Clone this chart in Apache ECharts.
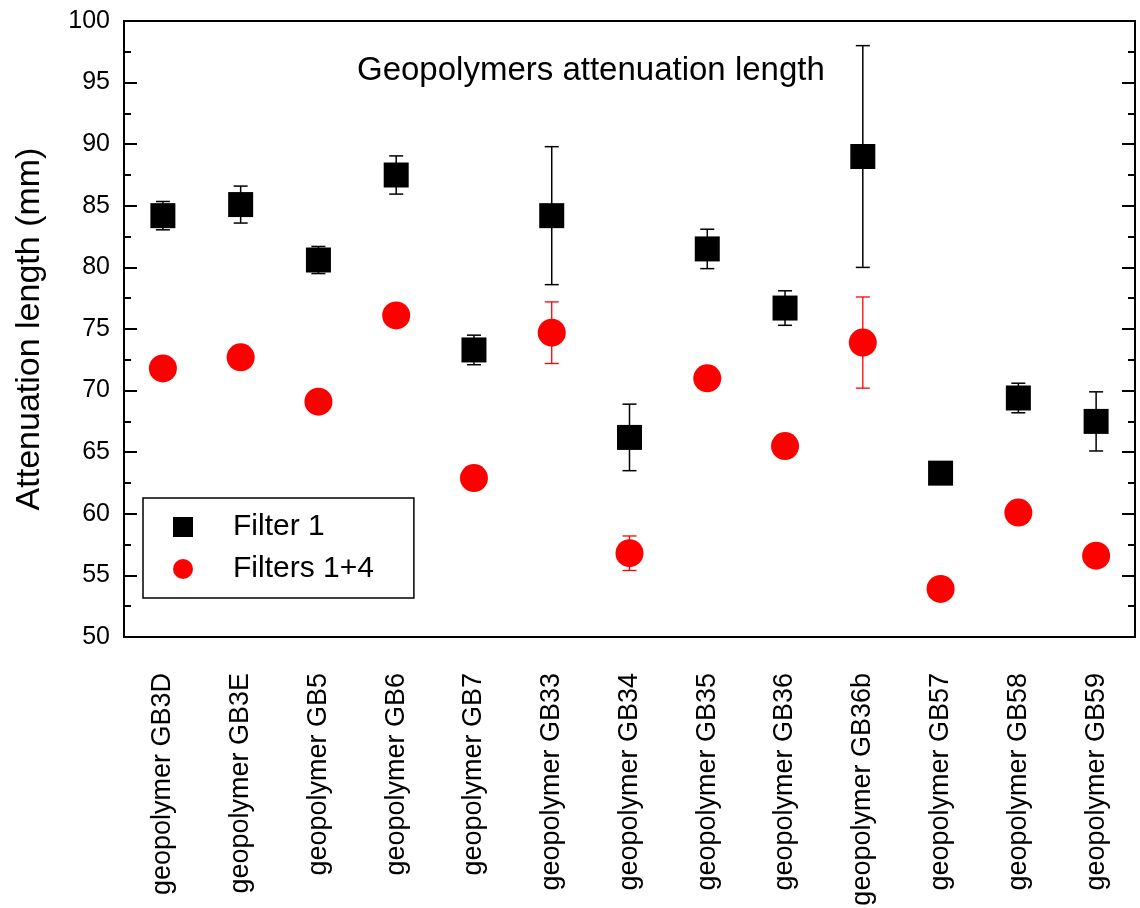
<!DOCTYPE html>
<html>
<head>
<meta charset="utf-8">
<title>Geopolymers attenuation length</title>
<script src="https://cdn.jsdelivr.net/npm/echarts@6/dist/echarts.min.js"></script>
<style>
  html, body { margin: 0; padding: 0; background: #fff; }
  #chart { width: 1140px; height: 908px; }
</style>
</head>
<body>
<div id="chart"></div>
<script>
// samples on the x axis
var categories = ['geopolymer GB3D', 'geopolymer GB3E', 'geopolymer GB5', 'geopolymer GB6',
  'geopolymer GB7', 'geopolymer GB33', 'geopolymer GB34', 'geopolymer GB35', 'geopolymer GB36',
  'geopolymer GB36b', 'geopolymer GB57', 'geopolymer GB58', 'geopolymer GB59'];

// Filter 1 (black squares) and its error
var filter1 = [84.2, 85.1, 80.6, 87.5, 73.3, 84.2, 66.2, 81.5, 76.7, 89.0, 63.3, 69.4, 67.5];
var filter1Err = [1.15, 1.5, 1.1, 1.55, 1.2, 5.6, 2.7, 1.6, 1.4, 9.0, 0, 1.2, 2.4];

// Filters 1+4 (red circles) and its error
var filters14 = [71.8, 72.7, 69.1, 76.1, 62.9, 74.7, 56.8, 71.0, 65.5, 73.9, 53.9, 60.1, 56.6];
var filters14Err = [0, 0, 0, 0, 0, 2.5, 1.4, 0, 0, 3.7, 0, 0, 0];

// y axis
var yMin = 50, yMax = 100, yStep = 5;

function errData(vals, errs) {
  var out = [];
  vals.forEach(function (v, i) {
    if (errs[i] > 0) out.push([i, v - errs[i], v + errs[i]]);
  });
  return out;
}

function errRender(color, width) {
  return function (params, api) {
    var x = api.value(0);
    var lo = api.coord([x, api.value(1)]);
    var hi = api.coord([x, api.value(2)]);
    var half = 7;
    var style = { stroke: color, lineWidth: width };
    return {
      type: 'group',
      children: [
        { type: 'line', shape: { x1: hi[0], y1: hi[1], x2: lo[0], y2: lo[1] }, style: style },
        { type: 'line', shape: { x1: hi[0] - half, y1: hi[1], x2: hi[0] + half, y2: hi[1] }, style: style },
        { type: 'line', shape: { x1: lo[0] - half, y1: lo[1], x2: lo[0] + half, y2: lo[1] }, style: style }
      ]
    };
  };
}

var chart = echarts.init(document.getElementById('chart'));
var font = 'Arial, "Liberation Sans", sans-serif';

var option = {
  backgroundColor: '#fff',
  animation: false,
  title: {
    text: 'Geopolymers attenuation length',
    left: 357, top: 54, padding: 0,
    textStyle: { fontFamily: font, fontSize: 33, fontWeight: 'normal', color: '#000' }
  },
  legend: {
    orient: 'vertical',
    left: 143, top: 498,
    padding: [14, 40, 14, 30],
    itemGap: 12,
    itemWidth: 20, itemHeight: 20,
    borderColor: '#000', borderWidth: 1.5, borderRadius: 0,
    textStyle: { fontFamily: font, fontSize: 30, color: '#000', padding: [0, 0, 0, 35] },
    data: [
      { name: 'Filter 1', icon: 'rect' },
      { name: 'Filters 1+4', icon: 'circle' }
    ]
  },
  grid: { left: 124, right: 5, top: 21, bottom: 271, outerBoundsMode: 'none' },
  xAxis: [
    {
      type: 'category', data: categories, position: 'bottom',
      axisLine: { lineStyle: { color: '#000', width: 2 } },
      axisTick: { inside: true, alignWithLabel: true, interval: 0, length: 13, lineStyle: { color: '#000', width: 2 } },
      axisLabel: { interval: 0, rotate: 90, margin: 36, fontFamily: font, fontSize: 27, color: '#000' },
      splitLine: { show: false }
    },
    {
      type: 'category', data: categories, position: 'top',
      axisLine: { lineStyle: { color: '#000', width: 2 } },
      axisTick: { inside: true, alignWithLabel: true, interval: 0, length: 13, lineStyle: { color: '#000', width: 2 } },
      axisLabel: { show: false },
      splitLine: { show: false }
    }
  ],
  yAxis: [
    {
      type: 'value', min: yMin, max: yMax, interval: yStep, position: 'left',
      name: 'Attenuation length (mm)', nameLocation: 'middle', nameGap: 77,
      nameTextStyle: { fontFamily: font, fontSize: 34, color: '#000' },
      axisLine: { show: true, lineStyle: { color: '#000', width: 2 } },
      axisTick: { show: true, inside: true, length: 13, lineStyle: { color: '#000', width: 2 } },
      minorTick: { show: true, splitNumber: 2, length: 7, lineStyle: { color: '#000', width: 2 } },
      axisLabel: { margin: 14, fontFamily: font, fontSize: 25, color: '#000' },
      splitLine: { show: false }
    },
    {
      type: 'value', min: yMin, max: yMax, interval: yStep, position: 'right',
      axisLine: { show: true, lineStyle: { color: '#000', width: 2 } },
      axisTick: { show: true, inside: true, length: 13, lineStyle: { color: '#000', width: 2 } },
      minorTick: { show: true, splitNumber: 2, length: 7, lineStyle: { color: '#000', width: 2 } },
      axisLabel: { show: false },
      splitLine: { show: false }
    }
  ],
  series: [
    {
      type: 'custom', name: 'err1', z: 1,
      renderItem: errRender('#000', 1.5),
      data: errData(filter1, filter1Err),
      encode: { x: 0, y: [1, 2] }
    },
    {
      type: 'custom', name: 'err14', z: 1,
      renderItem: errRender('#ff0000', 1.3),
      data: errData(filters14, filters14Err),
      encode: { x: 0, y: [1, 2] }
    },
    {
      type: 'scatter', name: 'Filter 1', z: 3,
      symbol: 'rect', symbolSize: 25,
      itemStyle: { color: '#000', opacity: 1 },
      data: filter1
    },
    {
      type: 'scatter', name: 'Filters 1+4', z: 3,
      symbol: 'circle', symbolSize: 28,
      itemStyle: { color: '#ff0000', opacity: 1 },
      data: filters14
    }
  ]
};

chart.setOption(option);
</script>
</body>
</html>
